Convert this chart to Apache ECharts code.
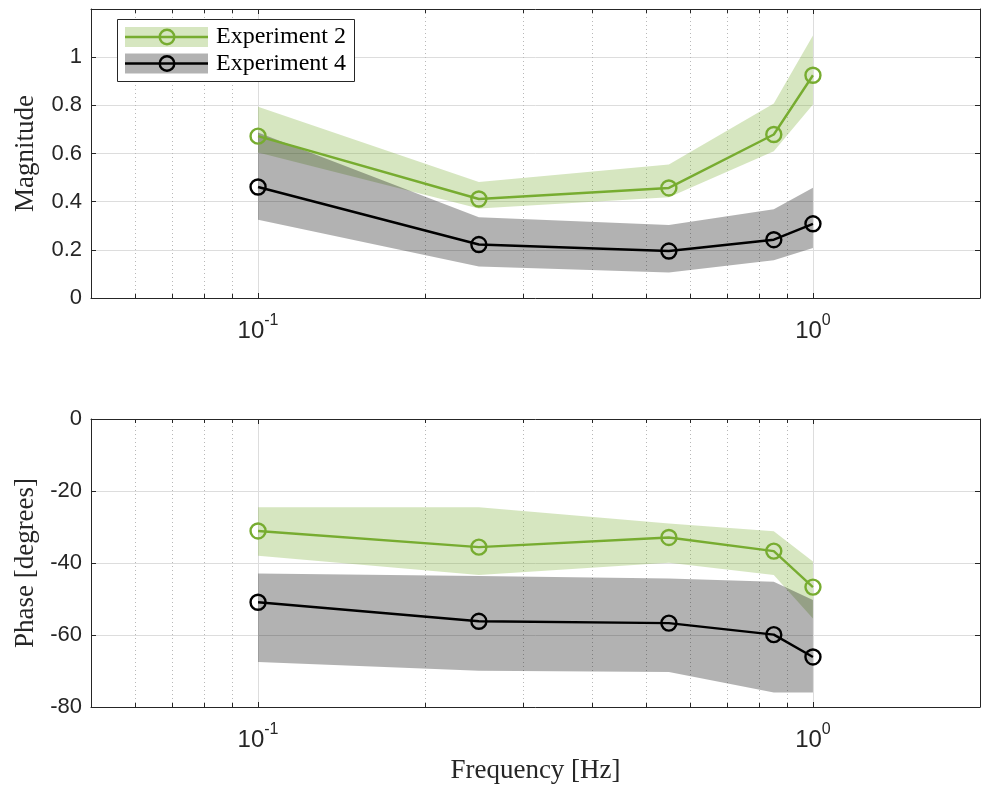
<!DOCTYPE html>
<html>
<head>
<meta charset="utf-8">
<script src="https://cdn.jsdelivr.net/npm/echarts@6/dist/echarts.min.js"></script>
<style>
  html, body { margin: 0; padding: 0; background: #ffffff; }
  #chart { width: 981px; height: 789px; }
</style>
</head>
<body>
<div id="chart"></div>
<script>
// Measured frequencies [Hz]
const frequency = [0.1, 0.25, 0.55, 0.85, 1.0];

// Experiment 2: magnitude mean and band limits
const mag2 = [0.672, 0.411, 0.457, 0.679, 0.925];
const mag2Upper = [0.794, 0.482, 0.554, 0.808, 1.090];
const mag2Lower = [0.604, 0.372, 0.418, 0.609, 0.803];

// Experiment 4: magnitude mean and band limits
const mag4 = [0.461, 0.222, 0.195, 0.242, 0.308];
const mag4Upper = [0.687, 0.335, 0.303, 0.368, 0.458];
const mag4Lower = [0.325, 0.131, 0.106, 0.157, 0.208];

// Experiment 2: phase mean and band limits [degrees]
const phase2 = [-31.1, -35.6, -32.9, -36.7, -46.7];
const phase2Upper = [-24.5, -24.5, -29.0, -31.2, -39.6];
const phase2Lower = [-38.0, -43.3, -39.9, -43.3, -55.4];

// Experiment 4: phase mean and band limits [degrees]
const phase4 = [-50.9, -56.2, -56.7, -59.9, -66.1];
const phase4Upper = [-42.9, -43.6, -44.3, -45.2, -50.3];
const phase4Lower = [-67.5, -69.9, -70.3, -76.0, -76.0];

// Log-axis grid positions
const majorFreqTicks = [0.1, 1];
const minorFreqTicks = [0.06, 0.07, 0.08, 0.09, 0.2, 0.3, 0.4, 0.5, 0.6, 0.7, 0.8, 0.9];

const GREEN = '#77AC30';
const GREEN_FILL = 'rgba(119,172,48,0.3)';
const GRAY_FILL = 'rgba(0,0,0,0.3)';
const AXIS_COLOR = '#262626';
const SANS = 'Liberation Sans, Arial, Helvetica, sans-serif';
const SERIF = 'Liberation Serif, Times New Roman, serif';

const FREQ_MIN = 0.05, FREQ_MAX = 2;
const panels = [
  { min: 0, max: 1.2, interval: 0.2, height: 289 },
  { min: -80, max: 0, interval: 20, height: 288 }
];

const pairs = (ys) => frequency.map((f, i) => [f, ys[i]]);

// Vertical grid lines plus short inward minor ticks on the top and bottom edges
function gridMarks(g) {
  const p = panels[g];
  const d = (p.max - p.min) * 4 / p.height;
  const data = [
    ...majorFreqTicks.map(v => ({ xAxis: v, lineStyle: { type: 'solid', color: '#dddddd', width: 1 } })),
    ...minorFreqTicks.map(v => ({ xAxis: v, lineStyle: { type: [1, 3], color: '#b8b8b8', width: 1 } }))
  ];
  minorFreqTicks.forEach(v => {
    data.push([{ coord: [v, p.min], lineStyle: { type: 'solid', color: AXIS_COLOR, width: 1 } }, { coord: [v, p.min + d] }]);
    data.push([{ coord: [v, p.max], lineStyle: { type: 'solid', color: AXIS_COLOR, width: 1 } }, { coord: [v, p.max - d] }]);
  });
  return {
    type: 'line', xAxisIndex: 2 * g, yAxisIndex: 2 * g, data: [], z: 0,
    silent: true,
    markLine: {
      silent: true, z: 0,
      symbol: ['none', 'none'],
      label: { show: false },
      emphasis: { disabled: true },
      animation: false,
      data
    }
  };
}

// Shaded band between lower and upper limits, drawn as one polygon in axis coordinates
function bandSeries(g, lower, upper, fill) {
  return {
    type: 'custom', xAxisIndex: 2 * g, yAxisIndex: 2 * g, silent: true, z: 1,
    data: frequency.map((f, i) => [f, lower[i], upper[i]]),
    encode: { x: 0, y: [1, 2] },
    renderItem: (params, api) => {
      if (params.dataIndex !== 0) return null;
      const pts = [];
      frequency.forEach((f, i) => pts.push(api.coord([f, upper[i]])));
      for (let i = frequency.length - 1; i >= 0; i--) pts.push(api.coord([frequency[i], lower[i]]));
      return { type: 'polygon', shape: { points: pts }, style: { fill } };
    }
  };
}

function meanSeries(g, name, ys, color) {
  return {
    type: 'line', name, xAxisIndex: 2 * g, yAxisIndex: 2 * g,
    data: pairs(ys), symbol: 'circle', symbolSize: 15,
    lineStyle: { color, width: 2.4 },
    itemStyle: { color: 'rgba(255,255,255,0)', borderColor: color, borderWidth: 2.4 },
    z: 5
  };
}

function powLabel(v) {
  const l = Math.log10(v);
  const e = Math.round(l);
  if (Math.abs(l - e) > 1e-6) return '';
  return '{base|10}{sup|' + e + '}';
}

function xAxes(g, withName) {
  const common = {
    type: 'log', logBase: 10, gridIndex: g, min: FREQ_MIN, max: FREQ_MAX,
    axisLine: { show: true, onZero: false, lineStyle: { color: AXIS_COLOR, width: 1 } },
    axisTick: { show: true, inside: true, length: 5, lineStyle: { color: AXIS_COLOR } },
    splitLine: { show: false }
  };
  const bottom = Object.assign({}, common, {
    position: 'bottom',
    axisLabel: {
      show: true, margin: 15,
      showMinLabel: false, showMaxLabel: false,
      formatter: powLabel,
      rich: {
        base: { fontSize: 24, fontFamily: SANS, color: AXIS_COLOR, lineHeight: 36 },
        sup: { fontSize: 16, fontFamily: SANS, color: AXIS_COLOR, lineHeight: 16, verticalAlign: 'top' }
      }
    }
  });
  if (withName) {
    Object.assign(bottom, {
      name: 'Frequency [Hz]', nameLocation: 'middle', nameGap: 50,
      nameTextStyle: { fontFamily: SERIF, fontSize: 27, color: AXIS_COLOR }
    });
  }
  const top = Object.assign({}, common, { position: 'top', axisLabel: { show: false } });
  return [bottom, top];
}

function yAxes(g, name, fmt) {
  const p = panels[g];
  const common = {
    type: 'value', gridIndex: g, min: p.min, max: p.max, interval: p.interval,
    axisLine: { show: true, onZero: false, lineStyle: { color: AXIS_COLOR, width: 1 } },
    axisTick: { show: true, inside: true, length: 5, lineStyle: { color: AXIS_COLOR } }
  };
  const left = Object.assign({}, common, {
    position: 'left',
    axisLabel: { show: true, margin: 9, fontSize: 22, fontFamily: SANS, color: AXIS_COLOR, formatter: fmt },
    splitLine: { show: true, lineStyle: { color: '#dddddd', width: 1 } },
    name, nameLocation: 'middle', nameGap: 52,
    nameTextStyle: { fontFamily: SERIF, fontSize: 27, color: AXIS_COLOR }
  });
  const right = Object.assign({}, common, {
    position: 'right', axisLabel: { show: false }, splitLine: { show: false }
  });
  return [left, right];
}

const magFmt = (v) => (v > 1.1 ? '' : String(+v.toFixed(2)));
const phaseFmt = (v) => String(Math.round(v));

const series = [
  gridMarks(0),
  bandSeries(0, mag2Lower, mag2Upper, GREEN_FILL),
  bandSeries(0, mag4Lower, mag4Upper, GRAY_FILL),
  meanSeries(0, 'Experiment 2', mag2, GREEN),
  meanSeries(0, 'Experiment 4', mag4, '#000000'),
  gridMarks(1),
  bandSeries(1, phase2Lower, phase2Upper, GREEN_FILL),
  bandSeries(1, phase4Lower, phase4Upper, GRAY_FILL),
  meanSeries(1, 'Experiment 2', phase2, GREEN),
  meanSeries(1, 'Experiment 4', phase4, '#000000')
];

// Boxed key: shaded band, line and circle marker per entry
function legendEntry(cy, fill, stroke, text) {
  return [
    { type: 'rect', shape: { x: 125, y: cy - 10, width: 83, height: 20 }, style: { fill }, z: 101 },
    { type: 'line', shape: { x1: 125, y1: cy, x2: 208, y2: cy }, style: { stroke, lineWidth: 2.4 }, z: 102 },
    { type: 'circle', shape: { cx: 167, cy, r: 7.3 }, style: { fill: 'none', stroke, lineWidth: 2.4 }, z: 103 },
    { type: 'text', x: 216, y: cy, style: { text, fontFamily: SERIF, fontSize: 24, fill: '#000000', verticalAlign: 'middle', align: 'left' }, z: 103 }
  ];
}

const option = {
  animation: false,
  backgroundColor: '#ffffff',
  grid: [
    { left: 91, top: 9, width: 889, height: panels[0].height },
    { left: 91, top: 419, width: 889, height: panels[1].height }
  ],
  xAxis: [...xAxes(0, false), ...xAxes(1, true)],
  yAxis: [
    ...yAxes(0, 'Magnitude', magFmt),
    ...yAxes(1, 'Phase [degrees]', phaseFmt)
  ],
  series,
  graphic: [
    { type: 'rect', shape: { x: 117.5, y: 19.5, width: 237, height: 62 }, style: { fill: '#ffffff', stroke: AXIS_COLOR, lineWidth: 1 }, z: 100 },
    ...legendEntry(37, GREEN_FILL, GREEN, 'Experiment 2'),
    ...legendEntry(63.5, GRAY_FILL, '#000000', 'Experiment 4')
  ]
};

const chart = echarts.init(document.getElementById('chart'), null, { renderer: 'canvas' });
chart.setOption(option);
</script>
</body>
</html>
